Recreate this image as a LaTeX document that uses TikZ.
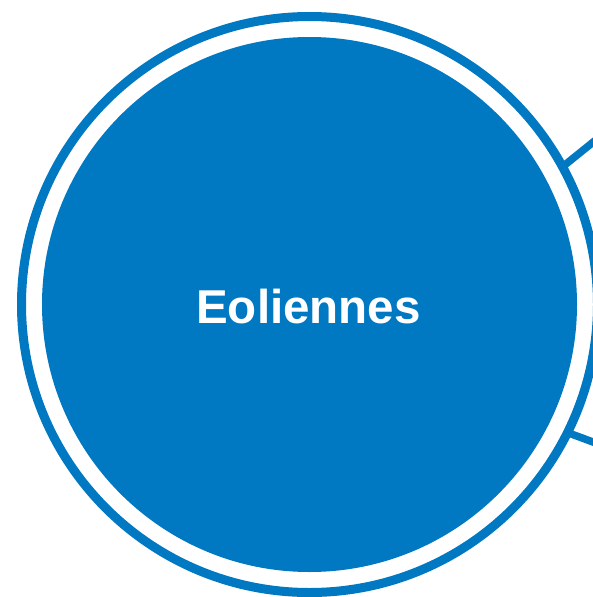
\documentclass[tikz,border=0pt]{standalone}
\usepackage{fontspec}
\setmainfont{Liberation Sans}
\definecolor{eblue}{RGB}{0,120,194}
\begin{document}
\begin{tikzpicture}[x=1pt,y=-1pt,
  ring/.style={draw=eblue,line width=9pt},
  link/.style={draw=eblue,line width=7.5pt},
  core/.style={circle,fill=eblue,minimum size=535pt,inner sep=0pt}]
\useasboundingbox (0,0) rectangle (593,597);
\clip (0,0) rectangle (593,597);
\coordinate (c) at (309.5,304.5);
\draw[ring] (c) circle[radius=288];
\node[core] (eol) at (c) {};
\node[text=white,font=\bfseries\fontsize{47.5}{50}\selectfont,anchor=base] (lbl) at (308.5,323.3) {Eoliennes};
\coordinate (u1) at (561,168);
\coordinate (u2) at (620,120.5);
\coordinate (l1) at (570,433.5);
\coordinate (l2) at (620,452);
\draw[link] (u1) -- (u2);
\draw[link] (l1) -- (l2);
\end{tikzpicture}
\end{document}
